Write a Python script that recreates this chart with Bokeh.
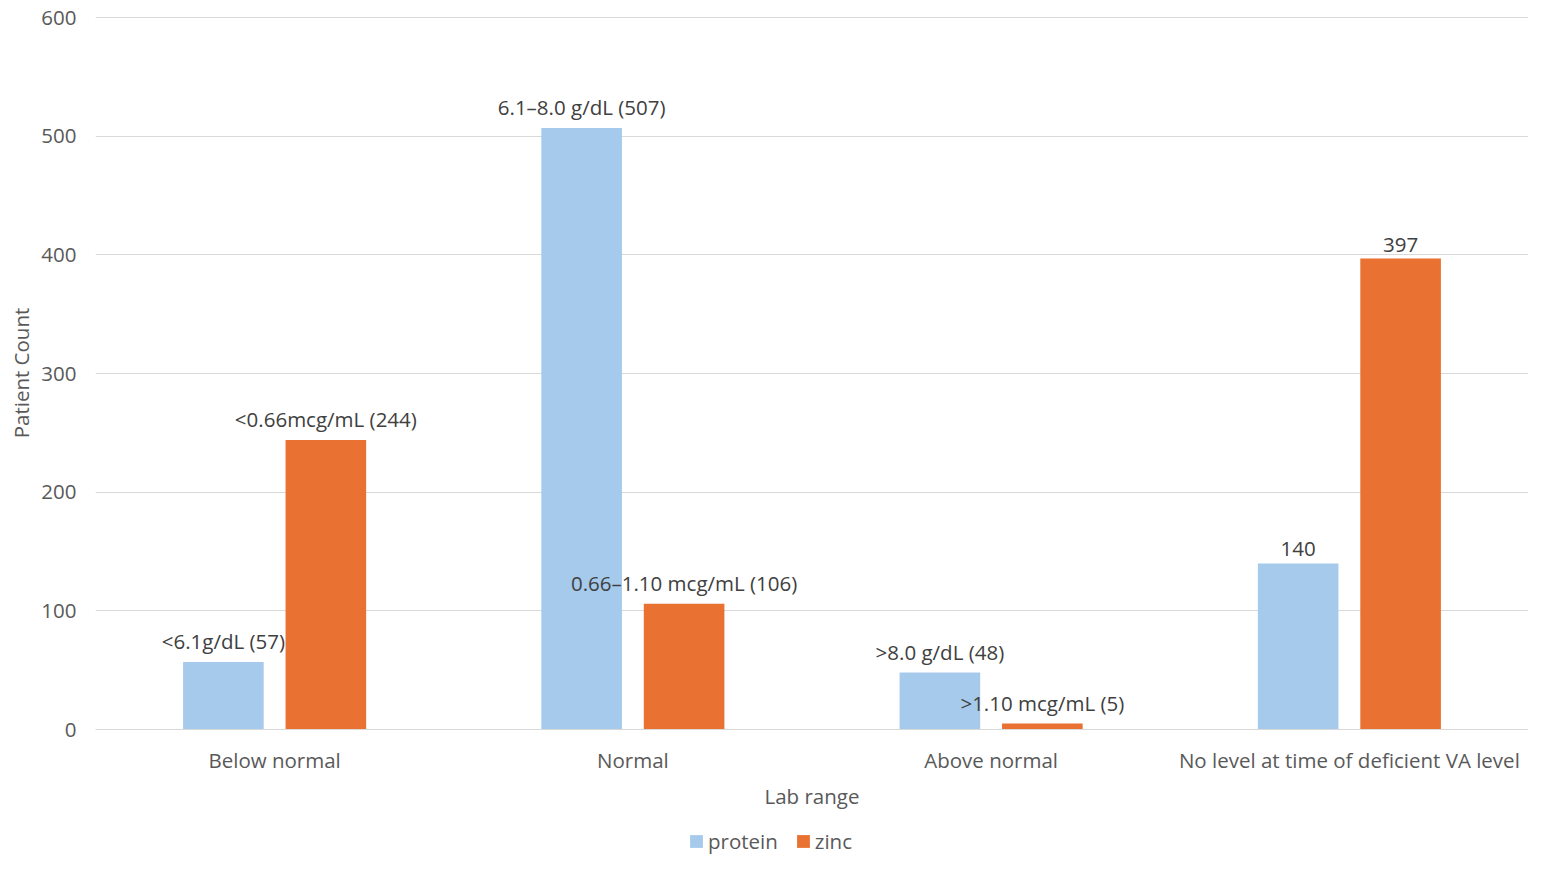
from bokeh.plotting import figure
from bokeh.layouts import column
from bokeh.models import ColumnDataSource, FactorRange, Legend, LegendItem, Range1d, SingleIntervalTicker
from bokeh.transform import dodge
from bokeh.core.properties import value
from bokeh.embed import file_html
from bokeh.resources import INLINE

categories = ["Below normal", "Normal", "Above normal", "No level at time of deficient VA level"]
protein = [57, 507, 48, 140]
zinc = [244, 106, 5, 397]
protein_labels = ["<6.1g/dL (57)", "6.1\u20138.0 g/dL (507)", ">8.0 g/dL (48)", "140"]
zinc_labels = ["<0.66mcg/mL (244)", "0.66\u20131.10 mcg/mL (106)", ">1.10 mcg/mL (5)", "397"]
series = ["protein", "zinc"]

FONT = "Open Sans"
FS = "20.5px"
BLUE = "#a6caec"
ORANGE = "#e97132"

src = ColumnDataSource(dict(cat=categories, protein=protein, zinc=zinc,
                            plab=protein_labels, zlab=zinc_labels))

p = figure(x_range=FactorRange(*categories, range_padding=0), y_range=Range1d(0, 601),
           width=1528, height=826, output_backend="svg", toolbar_location=None,
           min_border_left=95, min_border_right=0, min_border_top=16, min_border_bottom=97)
p.outline_line_color = None

p.vbar(x=dodge("cat", -0.143, range=p.x_range), top="protein", width=0.225,
       source=src, fill_color=BLUE, line_color=None)
p.vbar(x=dodge("cat", 0.143, range=p.x_range), top="zinc", width=0.225,
       source=src, fill_color=ORANGE, line_color=None)

p.text(x=dodge("cat", -0.143, range=p.x_range), y="protein", text="plab", source=src,
       text_align="center", text_baseline="bottom", y_offset=-7,
       text_font=value(FONT), text_font_size=FS, text_color="#404040")
p.text(x=dodge("cat", 0.143, range=p.x_range), y="zinc", text="zlab", source=src,
       text_align="center", text_baseline="bottom", y_offset=-7,
       text_font=value(FONT), text_font_size=FS, text_color="#404040")

p.yaxis.ticker = SingleIntervalTicker(interval=100)
p.ygrid.ticker = SingleIntervalTicker(interval=100)
p.ygrid.grid_line_color = "#d9d9d9"
p.ygrid.grid_line_width = 1
p.xgrid.grid_line_color = None

for ax in (p.xaxis[0], p.yaxis[0]):
    ax.major_tick_line_color = None
    ax.minor_tick_line_color = None
    ax.major_tick_out = 0
    ax.major_tick_in = 0
    ax.minor_tick_out = 0
    ax.major_label_text_font = FONT
    ax.major_label_text_font_size = FS
    ax.major_label_text_color = "#595959"
    ax.axis_label_text_font = FONT
    ax.axis_label_text_font_size = FS
    ax.axis_label_text_color = "#595959"
    ax.axis_label_text_font_style = "normal"

p.yaxis.axis_line_color = None
p.yaxis.major_label_standoff = 19
p.yaxis.axis_label = "Patient Count"
p.yaxis.axis_label_standoff = 3

p.xaxis.axis_line_color = "#d9d9d9"
p.xaxis.major_label_standoff = 16
p.xaxis.axis_label = "Lab range"
p.xaxis.axis_label_standoff = 5

# legend strip below the chart (swatch proxies lie outside its visible range)
lg = figure(width=1528, height=29, output_backend="svg", toolbar_location=None,
            x_axis_type=None, y_axis_type=None, x_range=Range1d(0, 1), y_range=Range1d(0, 1),
            min_border_left=0, min_border_right=0, min_border_top=0, min_border_bottom=0)
lg.outline_line_color = None
lg.xgrid.grid_line_color = None
lg.ygrid.grid_line_color = None
sw_p = lg.vbar(x=[-5], top=[-5], width=0.1, fill_color=BLUE, line_color=None)
sw_z = lg.vbar(x=[-5], top=[-5], width=0.1, fill_color=ORANGE, line_color=None)

legend = Legend(items=[LegendItem(label=series[0], renderers=[sw_p]),
                       LegendItem(label=series[1], renderers=[sw_z])],
                orientation="horizontal", location=(593, 0),
                glyph_width=16, glyph_height=16, label_standoff=4, spacing=17,
                padding=0, margin=0, border_line_color=None, background_fill_alpha=0,
                label_text_font=FONT, label_text_font_size=FS, label_text_color="#595959")
lg.add_layout(legend, "center")

open("out.html", "w").write(file_html(column(p, lg, spacing=0), INLINE))
